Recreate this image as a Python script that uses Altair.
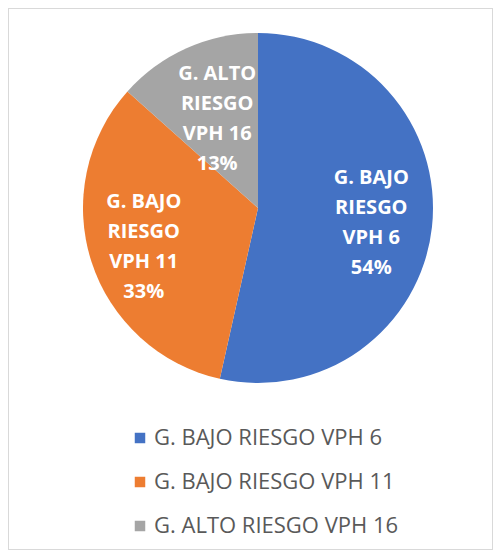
import altair as alt
import pandas as pd

categories = ["G. BAJO RIESGO VPH 6", "G. BAJO RIESGO VPH 11", "G. ALTO RIESGO VPH 16"]
values = [53.5, 33.1, 13.4]
label_lines = ["G. BAJO\nRIESGO\nVPH 6\n54%", "G. BAJO\nRIESGO\nVPH 11\n33%", "G. ALTO\nRIESGO\nVPH 16\n13%"]
colors = ["#4472C4", "#ED7D31", "#A5A5A5"]

df = pd.DataFrame({
    "cat": categories,
    "value": values,
    "label": label_lines,
    "idx": list(range(len(categories))),
})

CX, CY = 250, 200
total = sum(values)

pie = alt.Chart(df).mark_arc(outerRadius=175).encode(
    theta=alt.Theta("value:Q", stack=True, scale=alt.Scale(domain=[0, total])),
    order=alt.Order("idx:Q"),
    x=alt.value(CX),
    y=alt.value(CY),
    color=alt.Color(
        "cat:N",
        scale=alt.Scale(domain=categories, range=colors),
        sort=categories,
        legend=alt.Legend(
            title=None,
            orient="none",
            legendX=121,
            legendY=419,
            direction="vertical",
            symbolType="square",
            symbolSize=110,
            symbolStrokeWidth=0,
            labelFont="Open Sans",
            labelFontSize=22,
            labelColor="#595959",
            labelOffset=3,
            rowPadding=22,
            labelLimit=400,
        ),
    ),
)

def label_layer(i, r):
    return alt.Chart(df).transform_window(
        cum="sum(value)", sort=[alt.SortField("idx")]
    ).transform_calculate(
        mid="datum.cum - datum.value / 2"
    ).transform_filter(alt.datum.idx == i).mark_text(
        radius=r,
        dy=-43,
        color="white",
        font="Open Sans",
        fontSize=20,
        fontWeight="bold",
        lineBreak="\n",
        lineHeight=30,
        align="center",
        baseline="middle",
    ).encode(
        theta=alt.Theta("mid:Q", stack=None, scale=alt.Scale(domain=[0, total])),
        x=alt.value(CX),
        y=alt.value(CY),
        text="label:N",
    )

chart = alt.layer(
    pie,
    label_layer(0, 114),
    label_layer(1, 120),
    label_layer(2, 100),
).properties(
    width=485,
    height=542,
    autosize=alt.AutoSizeParams(type="none"),
    padding=0,
    background="white",
).configure_view(stroke="#D9D9D9", strokeWidth=2)

chart.save("out.html", embed_options={"renderer": "svg", "actions": False})
